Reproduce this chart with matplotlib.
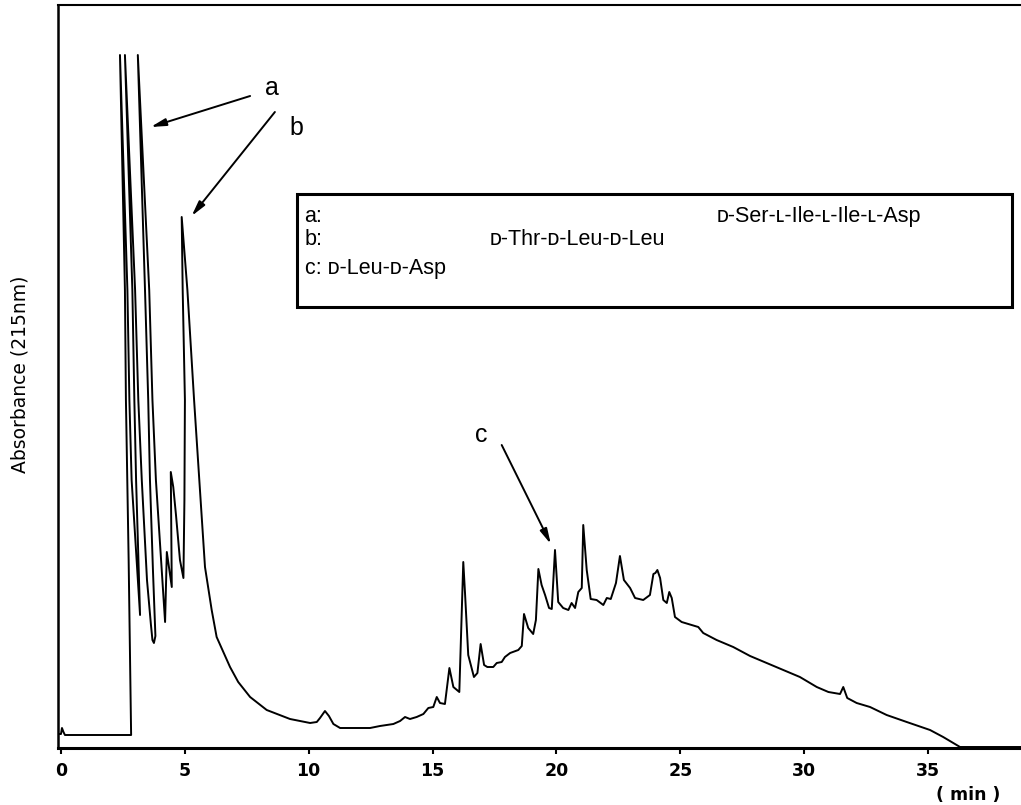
import matplotlib
matplotlib.use('Agg')
import matplotlib.pyplot as plt
from matplotlib.patches import Rectangle

# chromatogram trace (time in min, absorbance in arbitrary units)
# the recorder pen leans, so time is not strictly increasing on the big peaks
time_min = [
    -0.10, 0.01, 0.05, 0.11, 0.17, 2.84,
    2.74, 2.63, 2.59, 2.39,
    2.69, 2.77, 2.86, 3.20,
    3.04, 2.97, 2.89, 2.59,
    3.00, 3.13, 3.27, 3.48, 3.64, 3.70, 3.76, 3.82, 3.72, 3.60, 3.53, 3.40, 3.11,
    3.57, 3.70, 3.84, 4.05, 4.21, 4.28, 4.48, 4.44, 4.54, 4.65, 4.81, 4.95,
    4.99, 5.01, 4.92, 4.88,
    5.11, 5.38, 5.59, 5.82, 6.09, 6.29, 6.56, 6.83, 7.16, 7.64, 8.31, 9.25,
    10.06, 10.33, 10.46, 10.66, 10.82, 11.00, 11.27, 12.48, 12.88, 13.42,
    13.69, 13.89, 14.09, 14.36, 14.63, 14.83, 15.03, 15.17, 15.30, 15.50,
    15.68, 15.84, 16.08, 16.24, 16.31, 16.44, 16.67, 16.81, 16.94, 17.08,
    17.21, 17.45, 17.59, 17.79, 17.92, 18.13, 18.46, 18.60, 18.69, 18.86,
    19.06, 19.17, 19.27, 19.40, 19.54, 19.70, 19.81, 19.94, 20.07, 20.27,
    20.48, 20.61, 20.75, 20.88, 21.02, 21.08, 21.22, 21.38, 21.62, 21.89,
    22.03, 22.19, 22.40, 22.56, 22.72, 22.97, 23.17, 23.50, 23.77, 23.91,
    23.99, 24.07, 24.18, 24.31, 24.45, 24.55, 24.65, 24.78, 25.05, 25.32,
    25.72, 25.92, 26.46, 27.13, 27.81, 28.48, 29.15, 29.82, 30.50, 30.97,
    31.44, 31.57, 31.73, 32.11, 32.65, 33.32, 34.13, 35.07, 35.60, 36.28,
    38.74,
]
absorbance = [
    14, 14, 20, 16, 13, 13,
    188, 348, 458, 693,
    458, 348, 268, 133,
    268, 348, 458, 693,
    458, 348, 268, 168, 123, 108, 105, 112, 178, 268, 348, 458, 693,
    458, 348, 268, 188, 126, 196, 161, 276, 261, 233, 188, 170,
    248, 348, 458, 531,
    458, 348, 268, 181, 138, 111, 96, 81, 66, 51, 38, 29,
    25, 26, 30, 37, 32, 24, 20, 20, 22, 24,
    27, 31, 29, 31, 34, 40, 41, 51, 45, 44,
    80, 61, 56, 186, 155, 93, 71, 75, 104, 83,
    81, 81, 85, 86, 91, 95, 98, 102, 134, 120,
    114, 128, 179, 163, 153, 140, 139, 198, 146, 140,
    138, 145, 140, 156, 160, 223, 178, 149, 148, 143,
    150, 149, 165, 192, 168, 160, 150, 148, 153, 174,
    175, 178, 170, 148, 145, 156, 150, 131, 126, 124,
    121, 115, 108, 101, 92, 85, 78, 71, 61, 56,
    54, 61, 50, 45, 41, 33, 26, 18, 11, 1,
    1,
]

ticks = [0, 5, 10, 15, 20, 25, 30, 35]

peak_labels = ['a', 'b', 'c']
peak_tips = [(3.63, 621), (5.28, 532), (19.77, 204)]
arrow_tails = [(7.64, 652), (8.64, 636), (17.79, 303)]
label_pos = [(0.222, 0.888), (0.248, 0.834), (0.440, 0.421)]

sc_font = ['Liberation Sans', 'DejaVu Sans']
gothic = ['Liberation Sans Narrow', 'DejaVu Sans']

fig = plt.figure(figsize=(10.21, 8.05), dpi=100)
ax = fig.add_axes([58 / 1021, 57 / 805, 963 / 1021, 743 / 805])

ax.plot(time_min, absorbance, color='black', lw=1.4, solid_joinstyle='round')

ax.set_xlim(-0.11, 38.74)
ax.set_ylim(0, 743)
ax.set_xticks(ticks)
ax.set_xticklabels([str(t) for t in ticks], family=gothic, fontweight='bold', fontsize=12.5)
ax.set_yticks([])
ax.tick_params(axis='x', direction='out', length=4, width=1.5, pad=6)

ax.spines['right'].set_visible(False)
ax.spines['bottom'].set_linewidth(2.2)
ax.spines['left'].set_linewidth(1.8)
ax.spines['top'].set_linewidth(1.5)

# arrows to the peaks
for label, tip, tail, pos in zip(peak_labels, peak_tips, arrow_tails, label_pos):
    ax.annotate('', xy=tip, xytext=tail,
                arrowprops=dict(arrowstyle='-|>,head_length=0.9,head_width=0.22',
                                color='black', lw=1.4, shrinkA=0, shrinkB=0))
    ax.text(pos[0], pos[1], label, transform=ax.transAxes, fontsize=18,
            family=sc_font, ha='center', va='center')

# box with the peptide names
ax.add_patch(Rectangle((0.248, 0.594), 0.743, 0.152, transform=ax.transAxes,
                       facecolor='white', edgecolor='black', lw=2.2, zorder=3))
ax.text(0.256, 0.715, 'a:', transform=ax.transAxes, fontsize=15.5, family=sc_font,
        va='center', zorder=4)
ax.text(0.684, 0.715, 'ᴅ-Ser-ʟ-Ile-ʟ-Ile-ʟ-Asp', transform=ax.transAxes, fontsize=15.5,
        family=sc_font, va='center', zorder=4)
ax.text(0.256, 0.685, 'b:', transform=ax.transAxes, fontsize=15.5, family=sc_font,
        va='center', zorder=4)
ax.text(0.448, 0.685, 'ᴅ-Thr-ᴅ-Leu-ᴅ-Leu', transform=ax.transAxes, fontsize=15.5,
        family=sc_font, va='center', zorder=4)
ax.text(0.256, 0.646, 'c: ᴅ-Leu-ᴅ-Asp', transform=ax.transAxes, fontsize=15.5,
        family=sc_font, va='center', zorder=4)

fig.text(20 / 1021, 1 - 374 / 805, 'Absorbance (215nm)', rotation=90, family=gothic,
         fontsize=13.5, ha='center', va='center')
fig.text(968 / 1021, 1 - 795 / 805, '( min )', family=gothic, fontweight='bold',
         fontsize=12.5, ha='center', va='center')

fig.savefig('out.png', dpi=100)
